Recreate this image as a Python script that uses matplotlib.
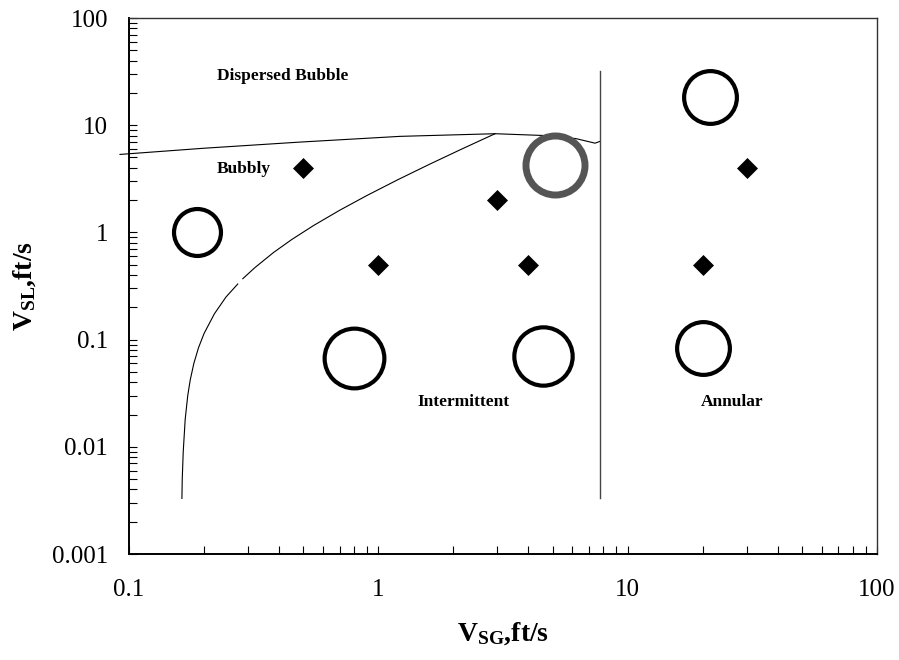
import matplotlib
matplotlib.use("Agg")
import matplotlib.pyplot as plt
from matplotlib.ticker import LogLocator, FixedFormatter, FixedLocator, NullFormatter

plt.rcParams['font.family'] = ['Liberation Serif', 'DejaVu Serif']
plt.rcParams['mathtext.fontset'] = 'custom'
plt.rcParams['mathtext.rm'] = 'Liberation Serif'
plt.rcParams['mathtext.bf'] = 'Liberation Serif:bold'

# Data
diamond_vsg = [0.5, 1, 3, 4, 20, 30]
diamond_vsl = [4, 0.5, 2, 0.5, 0.5, 4]

circle_vsg = [0.188, 0.8, 4.56, 21.4, 20.1]
circle_vsl = [1.0, 0.068, 0.07, 18.2, 0.083]
circle_sizes = [33.8, 43, 42, 38, 38]  # marker diameters (pt)

grey_vsg = [5.11]
grey_vsl = [4.22]

# Dispersed bubble boundary
db_vsg = [0.092, 0.2, 0.485, 1.22, 2.94, 4.73, 6.2, 7.4, 7.75]
db_vsl = [5.34, 6.1, 6.96, 7.87, 8.33, 8.0, 7.5, 6.8, 7.07]

# Bubbly / intermittent boundary (two pieces, small gap)
bi_upper_vsg = [2.94, 2.6, 2.1, 1.6, 1.2, 0.9, 0.7, 0.55, 0.45, 0.38, 0.32, 0.286]
bi_upper_vsl = [8.33, 7.31, 5.81, 4.31, 3.11, 2.21, 1.61, 1.16, 0.86, 0.65, 0.47, 0.37]
bi_lower_vsg = [0.273, 0.245, 0.22, 0.20, 0.19, 0.182, 0.176, 0.172, 0.168, 0.165, 0.1635, 0.163]
bi_lower_vsl = [0.33, 0.25, 0.174, 0.114, 0.084, 0.06, 0.042, 0.03, 0.018, 0.009, 0.0050, 0.0033]

# Intermittent / annular boundary
ia_vsg = [7.75, 7.75]
ia_vsl = [0.0033, 32]

xticks = [0.1, 1, 10, 100]
xtick_labels = ['0.1', '1', '10', '100']
yticks = [0.001, 0.01, 0.1, 1, 10, 100]
ytick_labels = ['0.001', '0.01', '0.1', '1', '10', '100']

region_labels = ['Dispersed Bubble', 'Bubbly', 'Intermittent', 'Annular']
region_x = [0.225, 0.225, 1.44, 19.7]
region_y = [28.5, 3.87, 0.026, 0.026]

fig = plt.figure(figsize=(8.99, 6.60), dpi=100)
ax = fig.add_axes([0.1435, 0.1606, 0.832, 0.8121])
ax.set_xscale('log')
ax.set_yscale('log')
ax.set_xlim(0.1, 100)
ax.set_ylim(0.001, 100)

ax.plot(db_vsg, db_vsl, color='black', lw=0.8, clip_on=False, zorder=2)
ax.plot(bi_upper_vsg, bi_upper_vsl, color='black', lw=0.8, zorder=2)
ax.plot(bi_lower_vsg, bi_lower_vsl, color='black', lw=0.8, zorder=2)
ax.plot(ia_vsg, ia_vsl, color='#444444', lw=1.0, zorder=2)

ax.plot(diamond_vsg, diamond_vsl, linestyle='none', marker='D', ms=10.5,
        color='black', mec='black', mew=0.5, zorder=3)

for x, y, s in zip(circle_vsg, circle_vsl, circle_sizes):
    ax.plot([x], [y], linestyle='none', marker='o', ms=s, mfc='none',
            mec='black', mew=3.0, zorder=4)

ax.plot(grey_vsg, grey_vsl, linestyle='none', marker='o', ms=42.5, mfc='white',
        mec='#555555', mew=5.0, zorder=4)

for t, x, y in zip(region_labels, region_x, region_y):
    ax.text(x, y, t, fontsize=12.5, fontweight='bold', ha='left', va='center')

ax.xaxis.set_major_locator(FixedLocator(xticks))
ax.xaxis.set_major_formatter(FixedFormatter(xtick_labels))
ax.yaxis.set_major_locator(FixedLocator(yticks))
ax.yaxis.set_major_formatter(FixedFormatter(ytick_labels))
ax.xaxis.set_minor_locator(LogLocator(base=10, subs=range(2, 10)))
ax.yaxis.set_minor_locator(LogLocator(base=10, subs=range(2, 10)))
ax.xaxis.set_minor_formatter(NullFormatter())
ax.yaxis.set_minor_formatter(NullFormatter())

ax.tick_params(axis='both', which='both', direction='in', length=5.5, width=0.8,
               top=False, right=False, labelsize=18)
ax.tick_params(axis='x', which='major', pad=18)
ax.tick_params(axis='y', which='major', pad=15)

for side in ['left', 'bottom']:
    ax.spines[side].set_linewidth(1.4)
for side in ['top', 'right']:
    ax.spines[side].set_linewidth(1.0)
    ax.spines[side].set_color('#333333')

ax.set_xlabel(r'$\mathbf{V_{SG}}$,ft/s', fontsize=20, fontweight='bold', labelpad=14)
ax.set_ylabel(r'$\mathbf{V_{SL}}$,ft/s', fontsize=20, fontweight='bold', labelpad=10)

fig.savefig('out.png', dpi=100, facecolor='white')
